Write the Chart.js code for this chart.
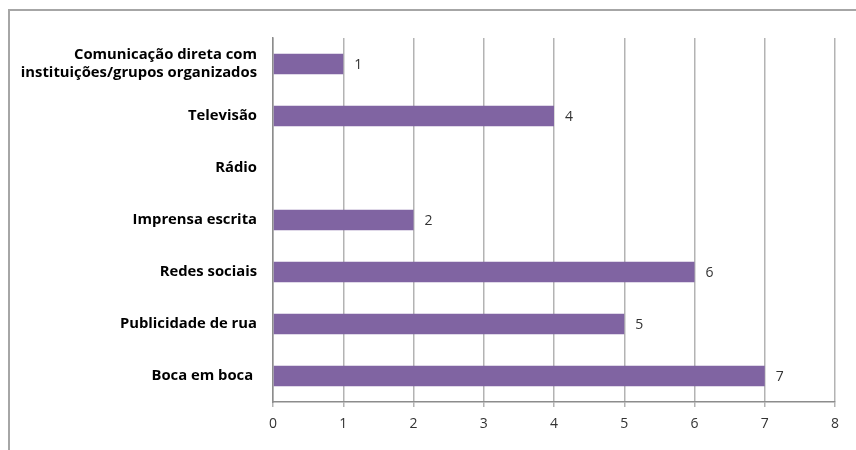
<!DOCTYPE html>
<html>
<head>
<meta charset="utf-8">
<script src="https://cdn.jsdelivr.net/npm/chart.js@4.4.1/dist/chart.umd.min.js"></script>
<style>
  html, body { margin: 0; padding: 0; background: #fff; overflow: hidden; }
  #wrap { position: relative; width: 856px; height: 450px; }
  #frame { position: absolute; left: 8px; top: 9px; width: 900px; height: 500px;
           border: 2px solid #a6a6a6; box-sizing: border-box; }
  canvas { position: absolute; left: 0; top: 0; }
</style>
</head>
<body>
<div id="wrap">
  <div id="frame"></div>
  <canvas id="chart" width="856" height="450"></canvas>
</div>
<script>
    const categories = [
        ["Comunicação direta com", "instituições/grupos organizados"],
        "Televisão",
        "Rádio",
        "Imprensa escrita",
        "Redes sociais",
        "Publicidade de rua",
        "Boca em boca "
    ];
    const values = [1, 4, null, 2, 6, 5, 7];
    const xTicks = [0, 1, 2, 3, 4, 5, 6, 7, 8];

    const barColor = '#8064a2';
    const gridColor = '#b3b3b3';
    const fontFamily = '"Open Sans", sans-serif';

    // value labels to the right of each bar
    const valueLabels = {
        id: 'valueLabels',
        afterDatasetsDraw(chart) {
            const ctx = chart.ctx;
            const meta = chart.getDatasetMeta(0);
            ctx.save();
            ctx.font = '14px ' + fontFamily;
            ctx.fillStyle = '#333';
            ctx.textBaseline = 'middle';
            ctx.textAlign = 'left';
            meta.data.forEach((bar, i) => {
                if (values[i] == null) return;
                ctx.fillText(String(values[i]), bar.x + 11, bar.y + 1);
            });
            ctx.restore();
        }
    };

    new Chart(document.getElementById('chart'), {
        type: 'bar',
        data: {
            labels: categories,
            datasets: [{
                data: values,
                backgroundColor: barColor,
                borderWidth: 0,
                categoryPercentage: 1,
                barPercentage: 0.39
            }]
        },
        options: {
            indexAxis: 'y',
            responsive: false,
            animation: false,
            layout: { padding: { top: 38, right: 21, left: 0, bottom: 0 } },
            plugins: {
                legend: { display: false },
                tooltip: { enabled: false }
            },
            scales: {
                x: {
                    min: 0,
                    max: 8,
                    afterBuildTicks: axis => { axis.ticks = xTicks.map(v => ({ value: v })); },
                    afterFit: axis => { axis.height = 48; },
                    grid: { color: gridColor, tickLength: 5, lineWidth: 1.5 },
                    border: { color: '#8c8c8c', width: 1.5 },
                    ticks: { color: '#333', padding: 9, font: { family: fontFamily, size: 14 } }
                },
                y: {
                    afterFit: axis => { axis.width = 273; },
                    grid: { display: false, drawTicks: false },
                    border: { color: '#8c8c8c', width: 1.5 },
                    ticks: { color: '#000', padding: 16, font: { family: fontFamily, size: 14.8, weight: 'bold', lineHeight: 1.2 } }
                }
            }
        },
        plugins: [valueLabels]
    });
</script>
</body>
</html>
